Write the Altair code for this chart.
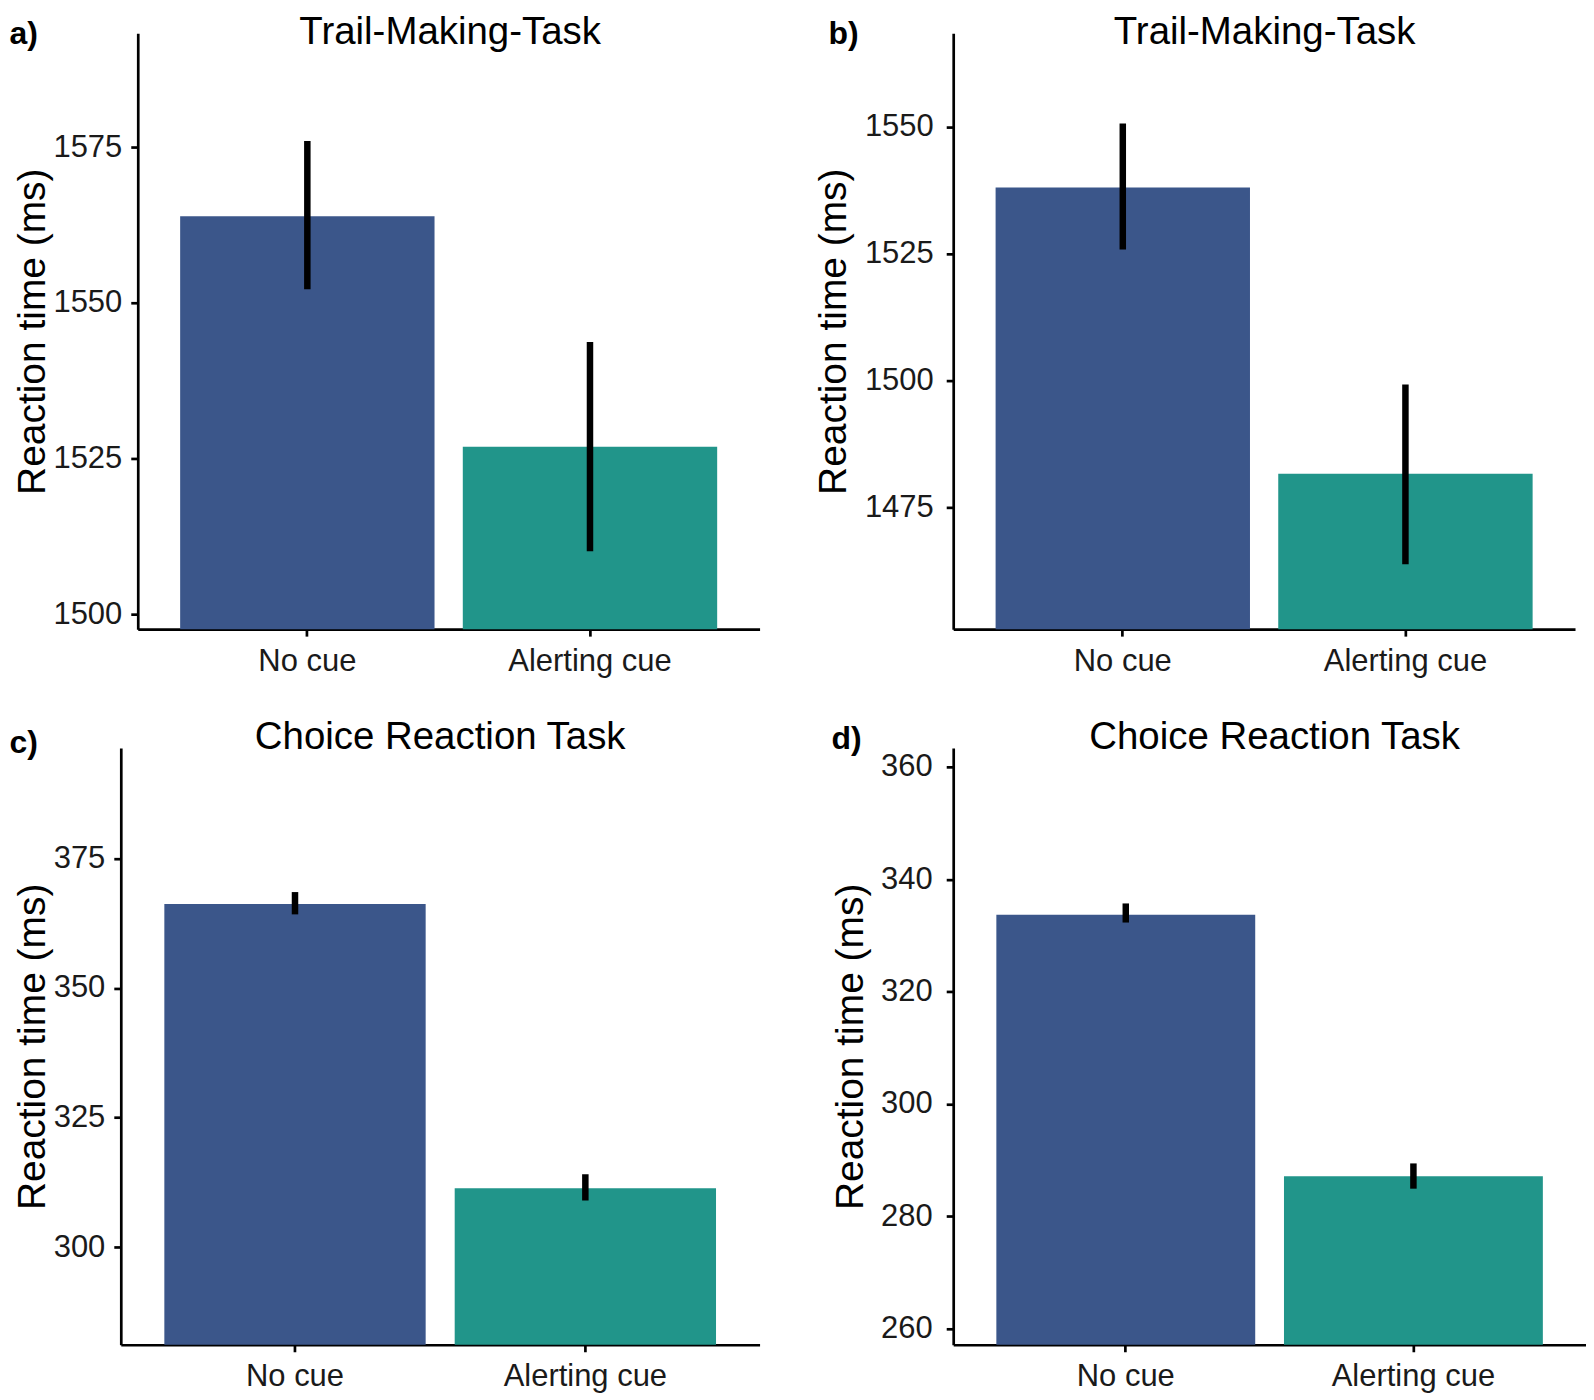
import altair as alt
import pandas as pd

FONT = "Liberation Sans"
BLUE = "#3B568A"
TEAL = "#21958A"

conditions = ["No cue", "Alerting cue"]

# Panel data
titles = ["Trail-Making-Task", "Trail-Making-Task", "Choice Reaction Task", "Choice Reaction Task"]
panel_labels = ["a)", "b)", "c)", "d)"]

means_a = [1563.9, 1526.9]
lo_a = [1552.2, 1510.1]
hi_a = [1576.0, 1543.7]
ticks_a = [1500, 1525, 1550, 1575]
domain_a = [1497.6, 1593.3]

means_b = [1538.0, 1481.6]
lo_b = [1525.8, 1463.8]
hi_b = [1550.6, 1499.2]
ticks_b = [1475, 1500, 1525, 1550]
domain_b = [1451.0, 1568.4]

means_c = [366.2, 311.4]
lo_c = [364.2, 309.0]
hi_c = [368.5, 314.1]
ticks_c = [300, 325, 350, 375]
domain_c = [281.2, 396.3]

means_d = [333.7, 287.1]
lo_d = [332.3, 284.9]
hi_d = [335.7, 289.4]
ticks_d = [260, 280, 300, 320, 340, 360]
domain_d = [257.1, 363.4]


def panel(title, label, means, lo, hi, ticks, domain, w, h,
          title_x, title_dy, label_x, label_y, ytitle_x, label_pad, left=0):
    df = pd.DataFrame({"cond": conditions, "mean": means, "lo": lo, "hi": hi})
    xaxis = alt.Axis(labelAngle=0, labelPadding=10)
    if left:
        xscale = alt.Scale(paddingInner=0.1, paddingOuter=0.15, range=[left, w])
        yaxis = alt.Axis(values=ticks, format="d", labelPadding=label_pad, offset=-left,
                         titleX=ytitle_x, titleY=h / 2, titleAngle=270,
                         titleBaseline="top", titleAlign="center")
    else:
        xscale = alt.Scale(paddingInner=0.1, paddingOuter=0.15)
        yaxis = alt.Axis(values=ticks, format="d", labelPadding=label_pad,
                         titleX=ytitle_x, titleY=h / 2, titleAngle=270,
                         titleBaseline="top", titleAlign="center")
    yscale = alt.Scale(domain=domain, nice=False, zero=False)
    bars = alt.Chart(df).mark_bar(clip=True).encode(
        x=alt.X("cond:N", sort=conditions, title=None, scale=xscale, axis=xaxis),
        y=alt.Y("mean:Q", title="Reaction time (ms)", scale=yscale, axis=yaxis),
        color=alt.Color("cond:N", scale=alt.Scale(domain=conditions, range=[BLUE, TEAL]),
                        legend=None),
    )
    err = alt.Chart(df).mark_rule(color="black", strokeWidth=6.5, clip=True).encode(
        x=alt.X("cond:N", sort=conditions, title=None, scale=xscale, axis=xaxis),
        y=alt.Y("lo:Q", title="Reaction time (ms)", scale=yscale, axis=yaxis),
        y2="hi:Q",
    )
    ttl = alt.Chart(alt.Data(values=[{"t": title}])).mark_text(
        font=FONT, fontSize=38.5, align="center", baseline="alphabetic", color="black"
    ).encode(text="t:N", x=alt.value(title_x), y=alt.value(title_dy))
    lab = alt.Chart(alt.Data(values=[{"t": label}])).mark_text(
        font=FONT, fontSize=32, fontWeight="bold", align="left",
        baseline="alphabetic", color="black"
    ).encode(text="t:N", x=alt.value(label_x), y=alt.value(label_y))
    return alt.layer(bars, err, ttl, lab).properties(width=w, height=h)


# panel a shares its left origin with panel c; its axis is shifted 17 px inward
pa = panel(titles[0], panel_labels[0], means_a, lo_a, hi_a, ticks_a, domain_a,
           640, 597, 330, 11, -111.5, 11, -124, 9, left=17)
pb = panel(titles[1], panel_labels[1], means_b, lo_b, hi_b, ticks_b, domain_b,
           623, 597, 312, 11, -125, 11, -139, 13)
pc = panel(titles[2], panel_labels[2], means_c, lo_c, hi_c, ticks_c, domain_c,
           640, 598, 320, 1, -111.5, 5, -107, 9)
pd_ = panel(titles[3], panel_labels[3], means_d, lo_d, hi_d, ticks_d, domain_d,
            634, 598, 322, 1, -122, 1, -122, 14)

row1 = alt.hconcat(pa, pb, spacing=55)
row2 = alt.hconcat(pc, pd_, spacing=72)

chart = alt.vconcat(row1, row2, spacing=42).properties(
    padding={"left": 1, "top": 4, "right": 0, "bottom": 0},
    background="white",
).configure_axis(
    grid=False,
    domainColor="black",
    domainWidth=2.7,
    tickColor="black",
    tickWidth=2.7,
    tickSize=7,
    labelFont=FONT,
    labelFontSize=31,
    labelColor="#1a1a1a",
    titleFont=FONT,
    titleFontSize=39,
    titleFontWeight="normal",
    titleColor="black",
).configure_view(stroke=None)

chart.save("out.html", embed_options={"renderer": "svg", "actions": False})
